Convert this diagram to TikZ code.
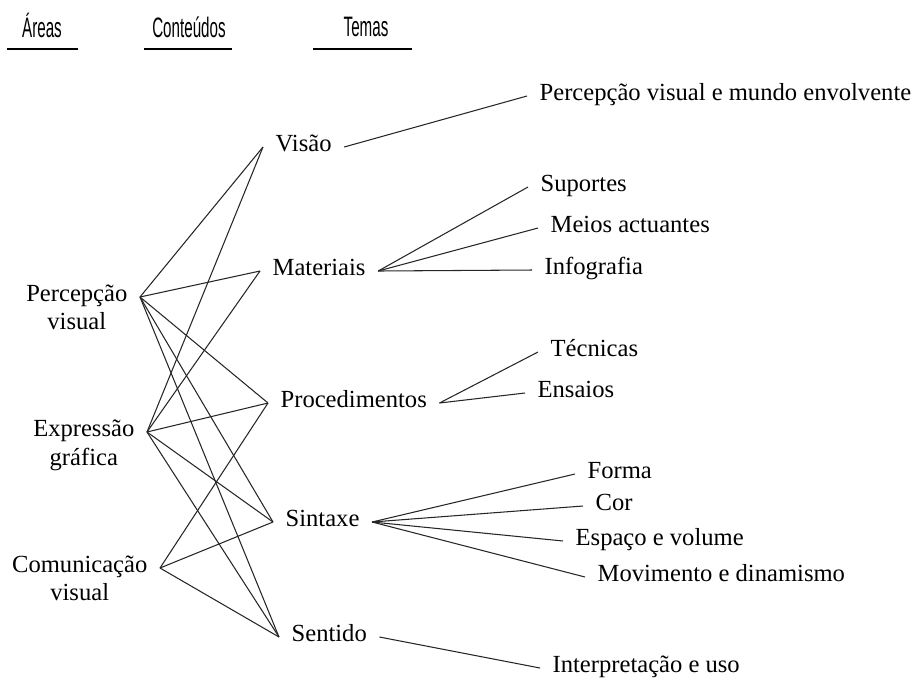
\documentclass[tikz,border=0pt]{standalone}
\usepackage{fontspec}
\setmainfont{Liberation Serif}
\newfontfamily\headfont{Liberation Sans}[FakeStretch=0.54]
\usetikzlibrary{positioning}

\begin{document}
\begin{tikzpicture}[x=0.02cm,y=-0.02cm,
    head/.style={font=\headfont\fontsize{16}{18}\selectfont,inner sep=0pt,anchor=base},
    area/.style={font=\fontsize{14}{16}\selectfont,anchor=east,inner xsep=7pt,
                 inner ysep=0pt,text height=1.6ex,text depth=0.4ex},
    areasub/.style={font=\fontsize{14}{16}\selectfont,inner sep=0pt,yshift=-4pt},
    conteudo/.style={font=\fontsize{14}{16}\selectfont,anchor=west,inner xsep=7pt,
                     inner ysep=2pt,text height=1.6ex,text depth=0.4ex},
    tema/.style={conteudo},
    link/.style={line width=0.6pt,color=black!85},
    rule/.style={line width=1pt}
]
\useasboundingbox (0,0) rectangle (920,681);

\node[head] (areas) at (42,37)  {Áreas};
\node[head] (cont)  at (189,37) {Conteúdos};
\node[head] (temas) at (366,36) {Temas};
\draw[rule] (7,49) -- (78,49);
\draw[rule] (144,49) -- (232,49);
\draw[rule] (313,49) -- (412,49);

\node[area,label={[areasub]below:visual}]  (perc) at (140,297) {Percepção};
\node[area,label={[areasub]below:gráfica}] (expr) at (147,432) {Expressão};
\node[area,label={[areasub]below:visual}]  (comu) at (160,568) {Comunicação};

\node[conteudo] (visao) at (263,147) {Visão};
\node[conteudo] (mate)  at (260,271) {Materiais};
\node[conteudo] (proc)  at (268,403) {Procedimentos};
\node[conteudo] (sint)  at (273,522) {Sintaxe};
\node[conteudo] (sent)  at (279,637) {Sentido};

\node[tema] (mundo)  at (527,96)  {Percepção visual e mundo envolvente};
\node[tema] (supo)   at (528,187) {Suportes};
\node[tema] (meios)  at (538,228) {Meios actuantes};
\node[tema] (info)   at (532,270) {Infografia};
\node[tema] (tecn)   at (538,352) {Técnicas};
\node[tema] (ensa)   at (525,393) {Ensaios};
\node[tema] (forma)  at (575,474) {Forma};
\node[tema] (cor)    at (583,506) {Cor};
\node[tema] (espaco) at (563,541) {Espaço e volume};
\node[tema] (movi)   at (585,577) {Movimento e dinamismo};
\node[tema] (inter)  at (540,668) {Interpretação e uso};

\draw[link] (perc.east)--(visao.west); \draw[link] (perc.east)--(mate.west);
\draw[link] (perc.east)--(proc.west);  \draw[link] (perc.east)--(sint.west);
\draw[link] (perc.east)--(sent.west);
\draw[link] (expr.east)--(visao.west); \draw[link] (expr.east)--(mate.west);
\draw[link] (expr.east)--(proc.west);  \draw[link] (expr.east)--(sint.west);
\draw[link] (expr.east)--(sent.west);
\draw[link] (comu.east)--(proc.west);  \draw[link] (comu.east)--(sint.west);
\draw[link] (comu.east)--(sent.west);

\draw[link] (visao.east)--(mundo.west);
\draw[link] (mate.east)--(supo.west); \draw[link] (mate.east)--(meios.west);
\draw[link] (mate.east)--(info.west);
\draw[link] (proc.east)--(tecn.west); \draw[link] (proc.east)--(ensa.west);
\draw[link] (sint.east)--(forma.west); \draw[link] (sint.east)--(cor.west);
\draw[link] (sint.east)--(espaco.west); \draw[link] (sint.east)--(movi.west);
\draw[link] (sent.east)--(inter.west);
\end{tikzpicture}
\end{document}
